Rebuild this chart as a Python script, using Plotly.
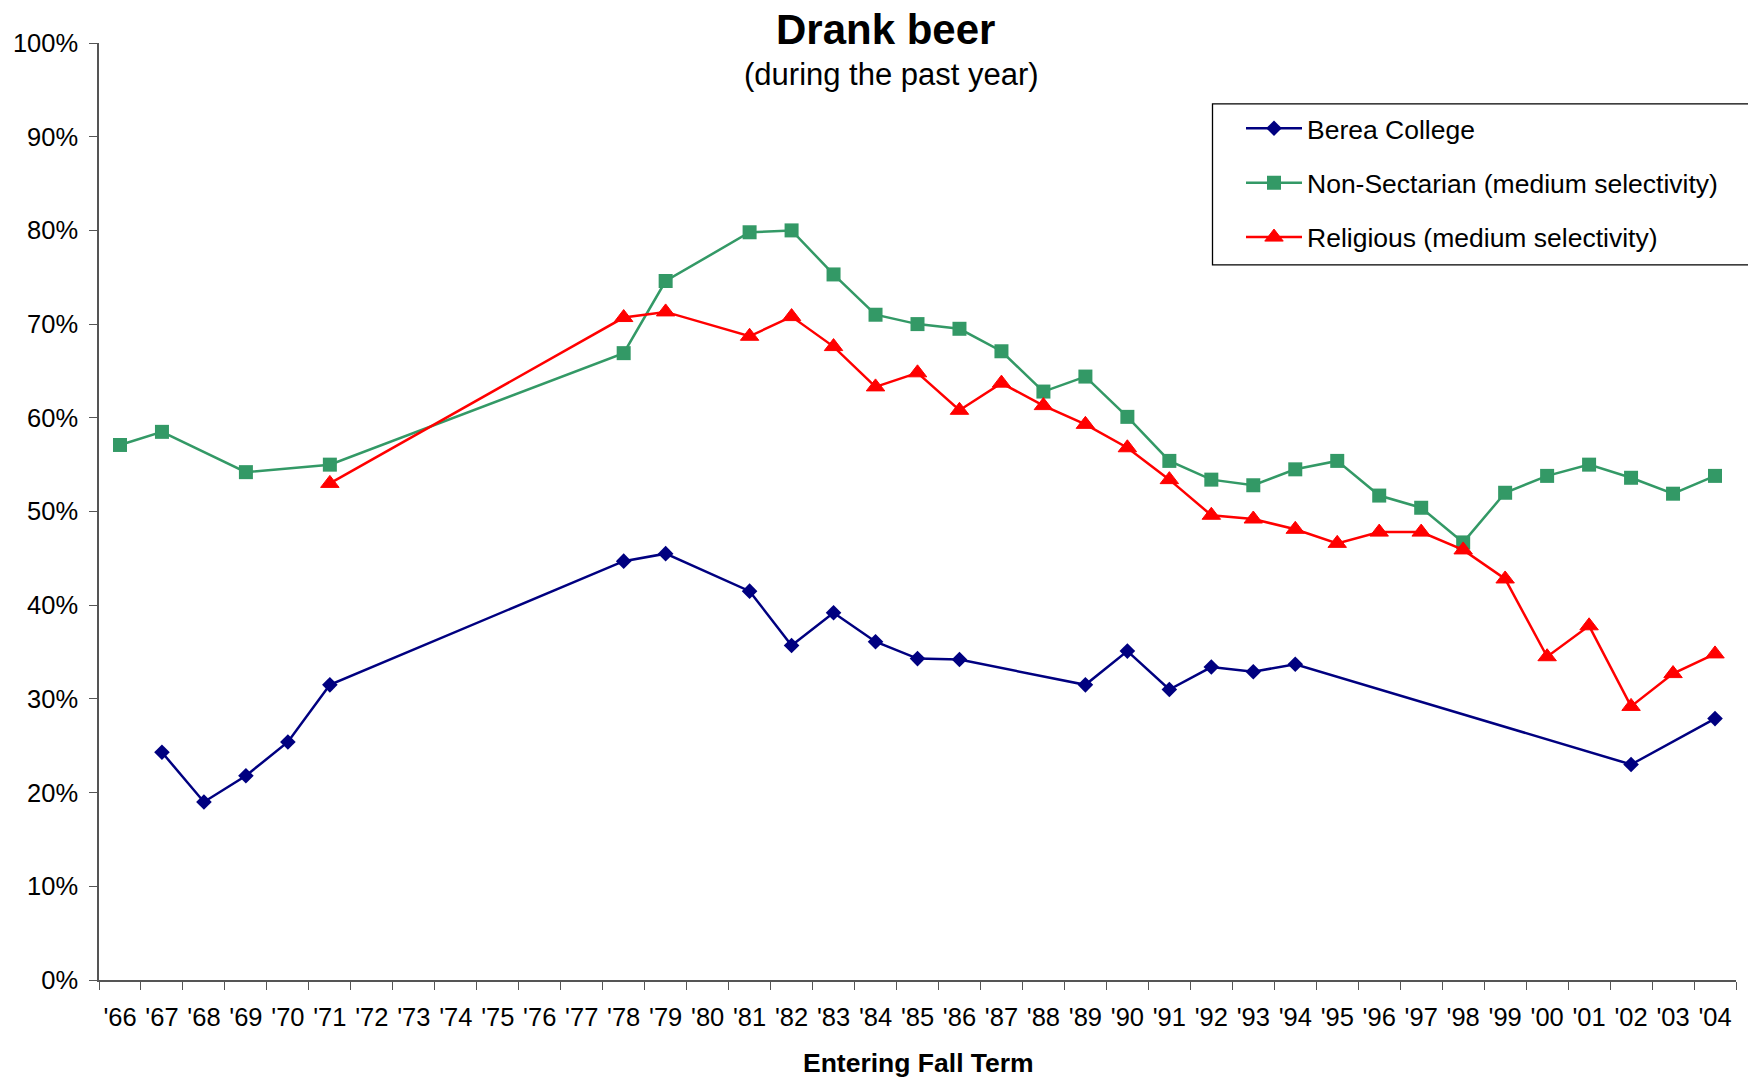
import plotly.graph_objects as go

# Category axis: entering fall term years
years = ["'66", "'67", "'68", "'69", "'70", "'71", "'72", "'73", "'74", "'75", "'76", "'77",
         "'78", "'79", "'80", "'81", "'82", "'83", "'84", "'85", "'86", "'87", "'88", "'89",
         "'90", "'91", "'92", "'93", "'94", "'95", "'96", "'97", "'98", "'99", "'00", "'01",
         "'02", "'03", "'04"]

berea_years = ["'67", "'68", "'69", "'70", "'71", "'78", "'79", "'81", "'82", "'83", "'84",
               "'85", "'86", "'89", "'90", "'91", "'92", "'93", "'94", "'02", "'04"]
berea_vals = [24.3, 19.0, 21.8, 25.4, 31.5, 44.7, 45.5, 41.5, 35.7, 39.2, 36.1,
              34.3, 34.2, 31.5, 35.1, 31.0, 33.4, 32.9, 33.7, 23.0, 27.9]

nonsect_years = ["'66", "'67", "'69", "'71", "'78", "'79", "'81", "'82", "'83", "'84", "'85",
                 "'86", "'87", "'88", "'89", "'90", "'91", "'92", "'93", "'94", "'95", "'96",
                 "'97", "'98", "'99", "'00", "'01", "'02", "'03", "'04"]
nonsect_vals = [57.1, 58.5, 54.2, 55.0, 66.9, 74.6, 79.8, 80.0, 75.3, 71.0, 70.0,
                69.5, 67.1, 62.8, 64.4, 60.1, 55.4, 53.4, 52.8, 54.5, 55.4, 51.7,
                50.4, 46.7, 52.0, 53.8, 55.0, 53.6, 51.9, 53.8]

relig_years = ["'71", "'78", "'79", "'81", "'82", "'83", "'84", "'85", "'86", "'87", "'88",
               "'89", "'90", "'91", "'92", "'93", "'94", "'95", "'96", "'97", "'98", "'99",
               "'00", "'01", "'02", "'03", "'04"]
relig_vals = [53.0, 70.7, 71.3, 68.7, 70.8, 67.6, 63.3, 64.8, 60.8, 63.7, 61.3,
              59.3, 56.8, 53.4, 49.6, 49.2, 48.1, 46.6, 47.8, 47.8, 45.9, 42.8,
              34.5, 37.8, 29.2, 32.7, 34.8]

y_ticks = [0, 10, 20, 30, 40, 50, 60, 70, 80, 90, 100]

FONT = "Liberation Sans, Arial, sans-serif"

fig = go.Figure()
fig.add_trace(go.Scatter(
    x=berea_years, y=berea_vals, name="Berea College", mode="lines+markers",
    legendgroup="a",
    line=dict(color="#000080", width=2.5),
    marker=dict(symbol="diamond", size=12, color="#000080")))
fig.add_trace(go.Scatter(
    x=nonsect_years, y=nonsect_vals, name="Non-Sectarian (medium selectivity)",
    mode="lines+markers", legendgroup="b",
    line=dict(color="#339966", width=2.5),
    marker=dict(symbol="square", size=14, color="#339966")))
fig.add_trace(go.Scatter(
    x=relig_years, y=relig_vals, name="Religious (medium selectivity)",
    mode="lines+markers", legendgroup="c",
    line=dict(color="#FF0000", width=2.5),
    marker=dict(symbol="triangle-up", size=16, color="#FF0000",
                line=dict(color="#FF0000", width=1))))

# The page body adds an 8px offset; target screen coordinates below
OFF = 8
W, H = 1756 - OFF, 1079 - OFF
PX0, PX1 = 99, 1736      # plot area left/right (screen px)
PY0, PY1 = 42.5, 980     # plot area top/bottom (screen px)
L = PX0 - OFF
R = W - (PX1 - OFF)
T = PY0 - OFF
B = H - (PY1 - OFF)
pw = PX1 - PX0
ph = PY1 - PY0

def px_x(x):
    return (x - PX0) / pw

def px_y(y):
    return (PY1 - y) / ph

fig.update_layout(
    width=W, height=H,
    margin=dict(l=L, r=R, t=T, b=B, autoexpand=False),
    paper_bgcolor="white", plot_bgcolor="white",
    font=dict(family=FONT, size=26, color="black"),
    showlegend=True,
    legend=dict(
        x=px_x(1241), y=px_y(104), xanchor="left", yanchor="top",
        bgcolor="rgba(0,0,0,0)", borderwidth=0,
        font=dict(family=FONT, size=26.5, color="black"),
        itemwidth=56,
        tracegroupgap=17, traceorder="grouped"),
    xaxis=dict(
        type="category", categoryorder="array", categoryarray=years,
        tickmode="array", tickvals=years, ticktext=years, tickangle=0,
        range=[-0.5, len(years) - 0.5],
        tickson="boundaries", ticks="outside", ticklen=8, tickcolor="#555",
        showline=True, linecolor="#555", linewidth=1.5,
        showgrid=False, zeroline=False,
        tickfont=dict(family=FONT, size=25.5, color="black"),
        ticklabelstandoff=14),
    yaxis=dict(
        range=[0, 100], tickmode="array", tickvals=y_ticks,
        ticktext=[f"{v}%" for v in y_ticks],
        ticks="outside", ticklen=8, tickcolor="#555",
        showline=True, linecolor="#555", linewidth=1.5,
        showgrid=False, zeroline=False,
        tickfont=dict(family=FONT, size=25.5, color="black"),
        ticklabelstandoff=6),
    shapes=[
        dict(type="rect", xref="paper", yref="paper",
             x0=px_x(1212.5), x1=px_x(1754.5), y0=px_y(264.5), y1=px_y(103.5),
             line=dict(color="black", width=1.3), fillcolor="rgba(0,0,0,0)",
             layer="above"),
    ],
    annotations=[
        dict(text="<b>Drank beer</b>", xref="paper", yref="paper",
             x=px_x(885), y=px_y(29), xanchor="center", yanchor="middle",
             showarrow=False, font=dict(family=FONT, size=42, color="black")),
        dict(text="(during the past year)", xref="paper", yref="paper",
             x=px_x(891), y=px_y(74), xanchor="center", yanchor="middle",
             showarrow=False, font=dict(family=FONT, size=31, color="black")),
        dict(text="<b>Entering Fall Term</b>", xref="paper", yref="paper",
             x=px_x(919), y=px_y(1063), xanchor="center", yanchor="middle",
             showarrow=False, font=dict(family=FONT, size=26.5, color="black")),
    ],
)

fig.write_html("out.html")
